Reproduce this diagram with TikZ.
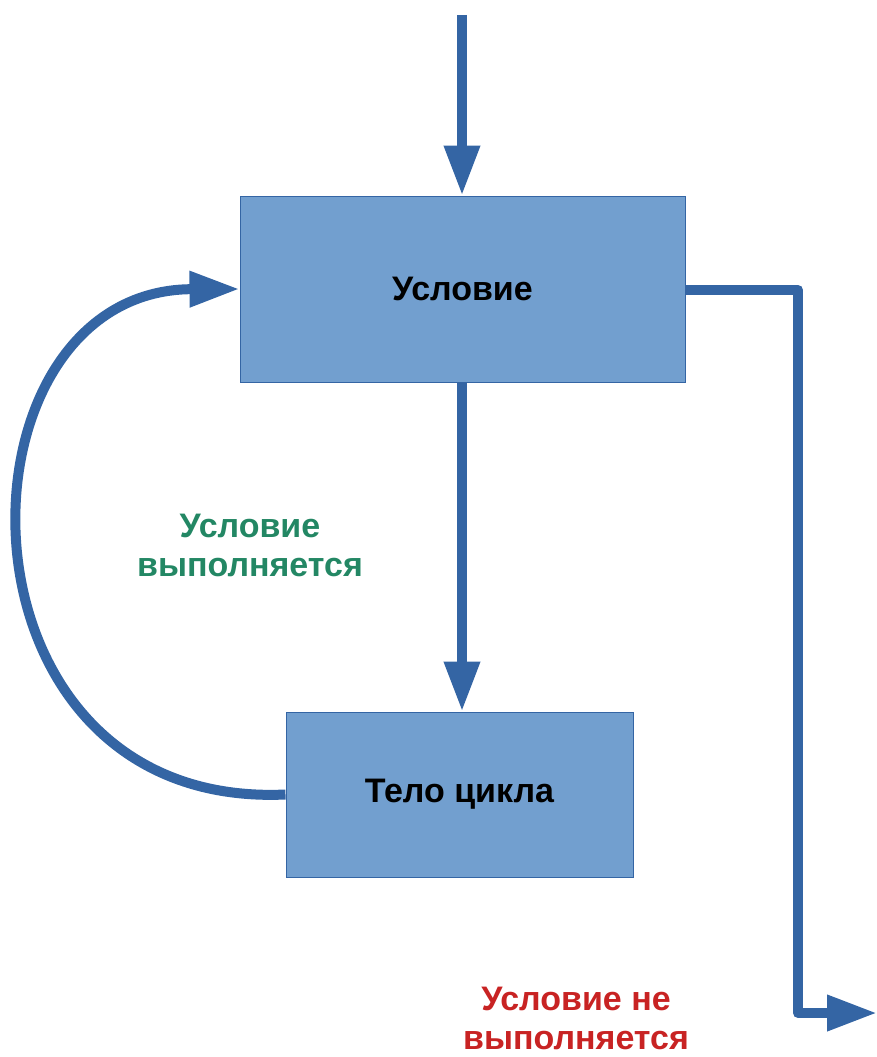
\documentclass[tikz,border=0pt]{standalone}
\usepackage{fontspec}
\setmainfont{Liberation Sans}
\usetikzlibrary{arrows.meta}
\definecolor{boxfill}{HTML}{729FCF}
\definecolor{boxline}{HTML}{3465A4}
\definecolor{arrowblue}{HTML}{3465A4}
\definecolor{greentxt}{RGB}{35,135,100}
\definecolor{redtxt}{RGB}{200,35,35}
\begin{document}
\begin{tikzpicture}[x=1pt,y=-1pt,
  block/.style={draw=boxline, line width=1pt, fill=boxfill, inner sep=0pt,
    font=\fontsize{34}{40}\selectfont\bfseries, text=black},
  conn/.style={draw=arrowblue, line width=10pt, line join=round,
    -{Triangle[length=50pt,width=34pt]}},
  lbl/.style={align=center, font=\fontsize{34}{39}\selectfont\bfseries}
]
\useasboundingbox (0,0) rectangle (877,1057);
\node[block, minimum width=445pt, minimum height=186pt] (cond) at (462.5,289) {Условие};
\node[block, minimum width=347pt, minimum height=165pt] (body) at (459.5,794.5) {Тело цикла};
\coordinate (top) at (462,15);
\coordinate (c1) at (798,290);
\coordinate (c2) at (798,1013);
\coordinate (out) at (877,1013);
\draw[conn] (top) -- (top |- cond.north);
\draw[conn] (cond.south -| top) -- (body.north -| top);
\draw[conn] (cond.east |- c1) -- (c1) -- (c2) -- (out);
\draw[conn] (body.west) .. controls (-60,810) and (-55,290) .. (cond.west);
\node[lbl, text=greentxt] (yes) at (250,545) {Условие\\выполняется};
\node[lbl, text=redtxt] (no) at (576,1018) {Условие не\\выполняется};
\end{tikzpicture}
\end{document}
